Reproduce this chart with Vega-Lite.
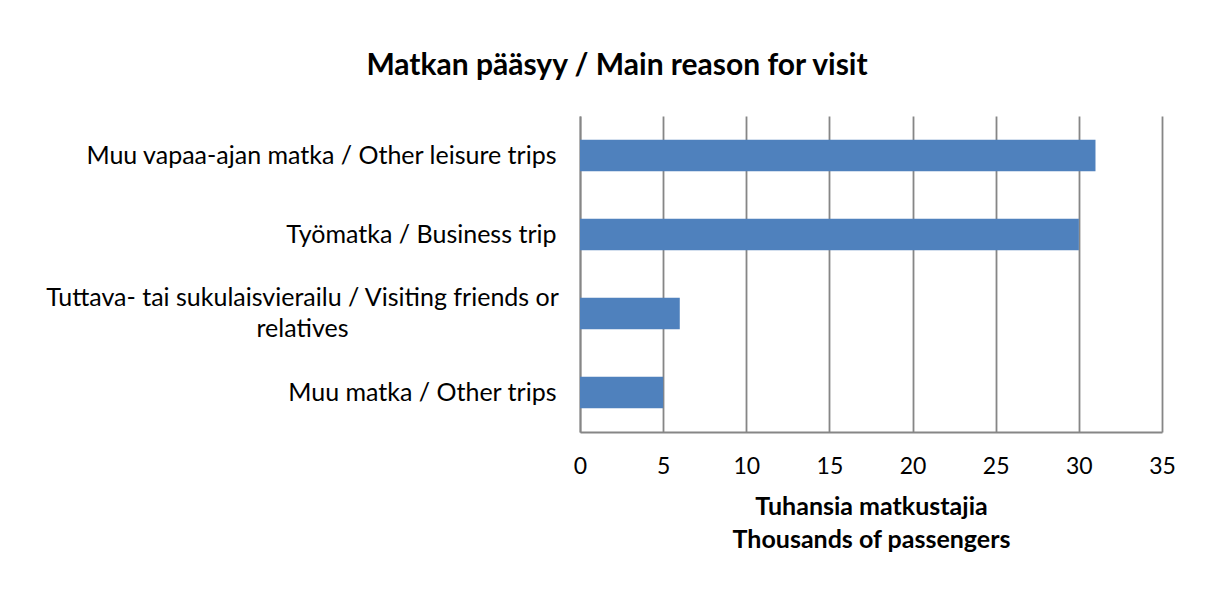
{
  "$schema": "https://vega.github.io/schema/vega-lite/v6.json",
  "autosize": "none",
  "width": 582,
  "height": 316,
  "padding": {"left": 580, "top": 116, "right": 44, "bottom": 166},
  "background": "white",
  "config": {"view": {"stroke": null}},
  "title": {
    "text": "Matkan pääsyy / Main reason for visit",
    "font": "Lato",
    "fontSize": 30,
    "fontWeight": "bold",
    "color": "black",
    "anchor": "middle",
    "frame": "group",
    "dx": -254,
    "baseline": "alphabetic",
    "offset": 11
  },
  "data": {
    "values": [
      {"reason": "Muu vapaa-ajan matka / Other leisure trips", "value": 31},
      {"reason": "Työmatka / Business trip", "value": 30},
      {"reason": "Tuttava- tai sukulaisvierailu / Visiting friends or relatives", "value": 6},
      {"reason": "Muu matka / Other trips", "value": 5}
    ]
  },
  "layer": [
    {
      "mark": {"type": "bar", "color": "#4F81BD"},
      "encoding": {
        "y": {
          "field": "reason",
          "type": "nominal",
          "sort": null,
          "scale": {"paddingInner": 0.6, "paddingOuter": 0.3},
          "axis": {
            "orient": "left",
            "title": null,
            "domain": true,
            "domainColor": "#868686",
            "domainWidth": 1.8,
            "ticks": false,
            "grid": false,
            "labelFont": "Lato",
            "labelFontSize": 25,
            "labelColor": "black",
            "labelPadding": 24,
            "labelAlign": "right",
            "labelLimit": 700,
            "labelExpr": "datum.label == 'Tuttava- tai sukulaisvierailu / Visiting friends or relatives' ? '' : datum.label"
          }
        },
        "x": {
          "field": "value",
          "type": "quantitative",
          "scale": {"domain": [0, 35], "nice": false},
          "axis": {
            "values": [0, 5, 10, 15, 20, 25, 30, 35],
            "grid": true,
            "gridColor": "#868686",
            "gridWidth": 1.8,
            "domain": true,
            "domainColor": "#868686",
            "domainWidth": 1.8,
            "ticks": false,
            "labelFont": "Lato",
            "labelFontSize": 23,
            "labelColor": "black",
            "labelPadding": 23,
            "labelFlush": false,
            "title": ["Tuhansia matkustajia", "Thousands of passengers"],
            "titleFont": "Lato",
            "titleFontSize": 25,
            "titleFontWeight": "bold",
            "titleColor": "black",
            "titleLineHeight": 33,
            "titlePadding": 16
          }
        }
      }
    },
    {
      "mark": {"type": "bar", "opacity": 0},
      "encoding": {
        "y": {
          "field": "reason",
          "type": "nominal",
          "sort": null,
          "axis": {
            "orient": "left",
            "title": null,
            "domain": false,
            "ticks": false,
            "grid": false,
            "labelFont": "Lato",
            "labelFontSize": 25,
            "labelColor": "black",
            "labelPadding": 278,
            "labelAlign": "center",
            "labelLimit": 700,
            "labelLineHeight": 31,
            "labelOffset": -15.5,
            "labelExpr": "datum.label == 'Tuttava- tai sukulaisvierailu / Visiting friends or relatives' ? ['Tuttava- tai sukulaisvierailu / Visiting friends or', 'relatives'] : ''"
          }
        },
        "x": {"field": "value", "type": "quantitative"}
      }
    }
  ],
  "resolve": {"axis": {"y": "independent"}}
}
